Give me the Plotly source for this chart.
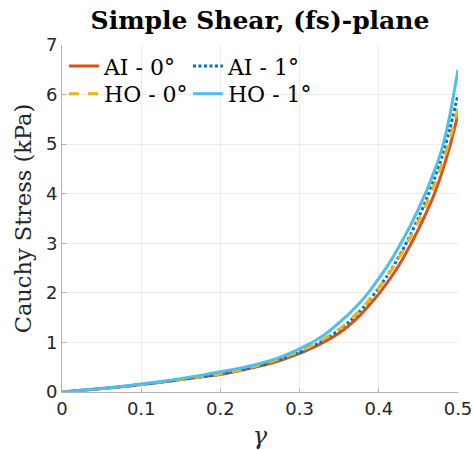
import plotly.graph_objects as go

gamma = [0, .025, .05, .075, .1, .125, .15, .175, .2, .225, .25, .275,
         .30, .31, .32, .33, .34, .35, .36, .37, .38, .39, .40,
         .41, .42, .43, .44, .45, .46, .47, .48, .49, .50]

ai_0 = [0, 0.033, 0.068, 0.106, 0.15, 0.197, 0.25, 0.3, 0.355, 0.435, 0.525, 0.635,
        0.78, 0.845, 0.92, 1.00, 1.09, 1.19, 1.31, 1.45, 1.61, 1.79, 1.98,
        2.19, 2.42, 2.68, 2.97, 3.28, 3.62, 3.99, 4.44, 4.97, 5.60]
ai_1 = [0, 0.034, 0.07, 0.108, 0.152, 0.2, 0.252, 0.304, 0.362, 0.44, 0.535, 0.655,
        0.80, 0.87, 0.95, 1.04, 1.14, 1.25, 1.38, 1.53, 1.70, 1.89, 2.10,
        2.33, 2.58, 2.86, 3.17, 3.51, 3.88, 4.29, 4.75, 5.32, 6.00]
ho_0 = [0, 0.034, 0.07, 0.108, 0.152, 0.2, 0.253, 0.305, 0.365, 0.445, 0.542, 0.67,
        0.82, 0.89, 0.97, 1.06, 1.16, 1.27, 1.40, 1.55, 1.71, 1.90, 2.10,
        2.32, 2.56, 2.83, 3.12, 3.44, 3.79, 4.17, 4.60, 5.11, 5.72]
ho_1 = [0, 0.035, 0.072, 0.113, 0.16, 0.21, 0.27, 0.335, 0.41, 0.48, 0.575, 0.70,
        0.87, 0.95, 1.04, 1.14, 1.26, 1.40, 1.54, 1.70, 1.87, 2.07, 2.29,
        2.52, 2.78, 3.06, 3.36, 3.69, 4.05, 4.45, 4.92, 5.60, 6.50]

names = ["AI - 0°", "AI - 1°", "HO - 0°", "HO - 1°"]
x_ticks = [0, 0.1, 0.2, 0.3, 0.4, 0.5]
y_ticks = [0, 1, 2, 3, 4, 5, 6, 7]

SERIF = "DejaVu Serif"
SANS = "DejaVu Sans"

series = [
    (names[0], ai_0, "#D95319", "solid", "legend"),
    (names[1], ai_1, "#0072BD", "3px,2.5px", "legend2"),
    (names[2], ho_0, "#EDB120", "10px,9px", "legend3"),
    (names[3], ho_1, "#4DBEEE", "solid", "legend4"),
]

fig = go.Figure()
for name, ys, color, dash, leg in series:
    fig.add_trace(go.Scatter(
        x=gamma, y=ys, mode="lines", name=name,
        line=dict(color=color, width=3, dash=dash, shape="spline", smoothing=0.3),
        legend=leg,
    ))

axis_common = dict(
    showgrid=True, gridcolor="#ececec", gridwidth=1,
    showline=True, linecolor="#b3b3b3", linewidth=1,
    ticks="inside", ticklen=4, tickcolor="#b3b3b3",
    tickfont=dict(family=SANS, size=18, color="#262626"),
    zeroline=False, automargin=False,
)

leg_font = dict(family=SERIF, size=22, color="black")
def leg(x, y):
    return dict(x=x, y=y, xanchor="left", yanchor="middle", bgcolor="rgba(0,0,0,0)",
                font=leg_font, borderwidth=0)

fig.update_layout(
    width=473, height=450,
    margin=dict(l=62, r=15, t=45, b=58),
    paper_bgcolor="white", plot_bgcolor="white",
    title=dict(text="<b>Simple Shear, (fs)-plane</b>", x=0.5, xref="paper",
               xanchor="center", y=0.955, yanchor="middle",
               font=dict(family=SERIF, size=25, color="black")),
    xaxis=dict(range=[0, 0.5], tickvals=x_ticks, ticktext=[str(v) for v in x_ticks],
               title=dict(text="<i>γ</i>", font=dict(family=SERIF, size=24, color="#262626"),
                          standoff=12),
               **axis_common),
    yaxis=dict(range=[0, 7], tickvals=y_ticks,
               title=dict(text="Cauchy Stress (kPa)",
                          font=dict(family=SERIF, size=22.5, color="#262626"), standoff=8),
               **axis_common),
    legend=leg(0.005, 0.939),
    legend2=leg(0.318, 0.939),
    legend3=leg(0.005, 0.859),
    legend4=leg(0.318, 0.859),
    showlegend=True,
)

fig.write_html("out.html")
